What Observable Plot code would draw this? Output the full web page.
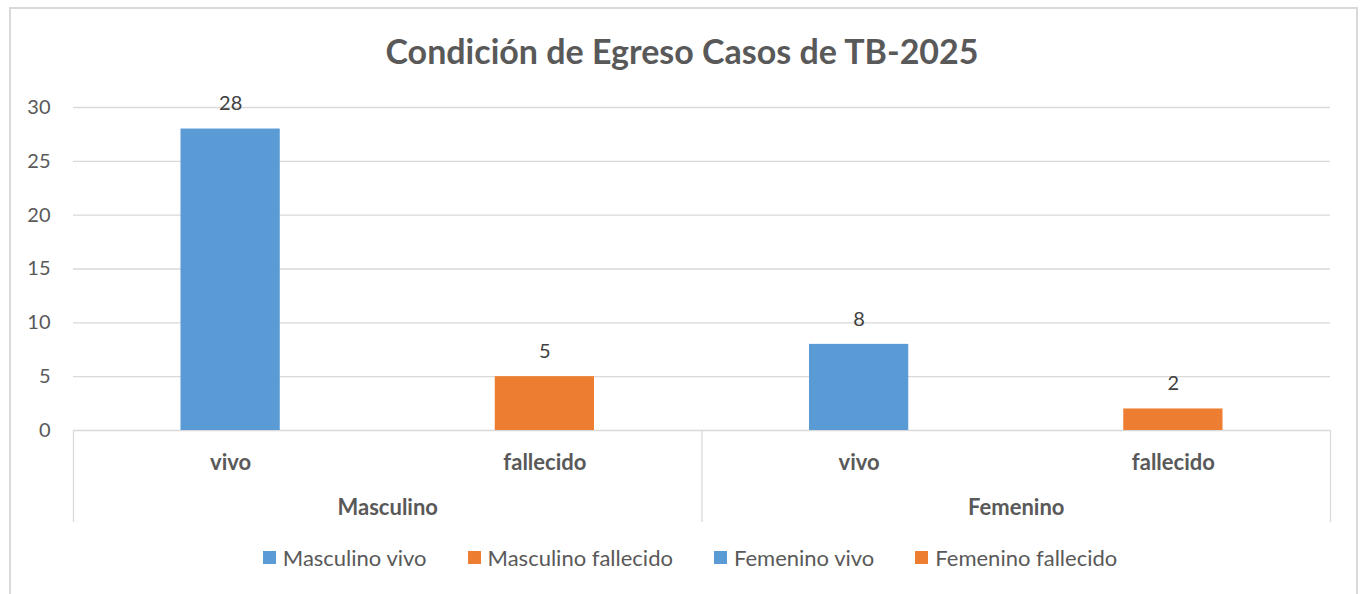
<!DOCTYPE html>
<html>
<head>
<meta charset="utf-8">
<script src="https://cdn.jsdelivr.net/npm/d3@7"></script>
<script src="https://cdn.jsdelivr.net/npm/@observablehq/plot@0.6"></script>
<style>
  html, body { margin: 0; padding: 0; background: #fff; }
  body { width: 1364px; height: 594px; position: relative; overflow: hidden; font-family: Lato, "Open Sans", sans-serif; }
  #frame { position: absolute; left: 9px; top: 7px; width: 1349px; height: 620px; border: 2px solid #d9d9d9; box-sizing: border-box; }
  #title { position: absolute; left: 0; top: 30px; width: 1364px; text-align: center; font-size: 34px; font-weight: bold; color: #595959; }
  #chart { position: absolute; left: 0; top: 80px; }
  #legend { position: absolute; left: 8px; top: 544px; width: 1364px; display: flex; justify-content: center; font-size: 22px; color: #595959; }
  .item { display: flex; align-items: center; margin: 0 20.5px; }
  .sw { width: 13px; height: 13px; margin-right: 7px; }
</style>
</head>
<body>
<div id="frame"></div>
<div id="title">Condición de Egreso Casos de TB-2025</div>
<div id="chart"></div>
<div id="legend"></div>
<script>
const groups = ["Masculino", "Masculino", "Femenino", "Femenino"];
const conditions = ["vivo", "fallecido", "vivo", "fallecido"];
const values = [28, 5, 8, 2];
const seriesNames = ["Masculino vivo", "Masculino fallecido", "Femenino vivo", "Femenino fallecido"];
const seriesColors = ["#5B9BD5", "#ED7D31", "#5B9BD5", "#ED7D31"];
const yTicks = [0, 5, 10, 15, 20, 25, 30];

const rows = values.map((v, i) => ({i, group: groups[i], condition: conditions[i], value: v, series: seriesNames[i]}));
const groupRows = Array.from(d3.group(rows, d => d.group), ([g, rs]) => ({group: g, start: d3.min(rs, d => d.i), end: d3.max(rs, d => d.i) + 1}));
const boundaries = [0, ...groupRows.map(g => g.end)];

const plot = Plot.plot({
  width: 1364,
  height: 450,
  marginLeft: 73,
  marginRight: 34,
  marginTop: 27,
  marginBottom: 100,
  style: {fontFamily: "Lato, 'Open Sans', sans-serif", background: "transparent", overflow: "visible"},
  x: {type: "linear", domain: [0, rows.length], axis: null},
  y: {domain: [0, 30], axis: null},
  color: {type: "ordinal", domain: seriesNames, range: seriesColors},
  marks: [
    Plot.ruleY(yTicks, {stroke: "#d9d9d9", strokeWidth: 1.3}),
    Plot.axisY({ticks: yTicks, tickSize: 0, tickPadding: 23, fontSize: 20, fill: "#595959", anchor: "left", label: null}),
    Plot.axisX({ticks: boundaries, tickSize: 92, tickFormat: () => "", stroke: "#d9d9d9", strokeWidth: 1.3, anchor: "bottom", label: null}),
    Plot.rectY(rows, {x1: "i", x2: d => d.i + 1, y: "value", fill: "series", insetLeft: 107.5, insetRight: 107.5}),
    Plot.text(rows, {x: d => d.i + 0.5, y: "value", text: d => String(d.value), dy: -25, fontSize: 20, fill: "#404040"}),
    Plot.text(rows, {x: d => d.i + 0.5, text: "condition", frameAnchor: "bottom", dy: 39, fontSize: 22, fontWeight: "bold", fill: "#595959"}),
    Plot.text(groupRows, {x: d => (d.start + d.end) / 2, text: "group", frameAnchor: "bottom", dy: 84, fontSize: 22, fontWeight: "bold", fill: "#595959"})
  ]
});
document.getElementById("chart").appendChild(plot);

const legend = d3.select("#legend");
seriesNames.forEach((s, k) => {
  const it = legend.append("div").attr("class", "item");
  it.append("div").attr("class", "sw").style("background", seriesColors[k]);
  it.append("span").text(s);
});
</script>
</body>
</html>
